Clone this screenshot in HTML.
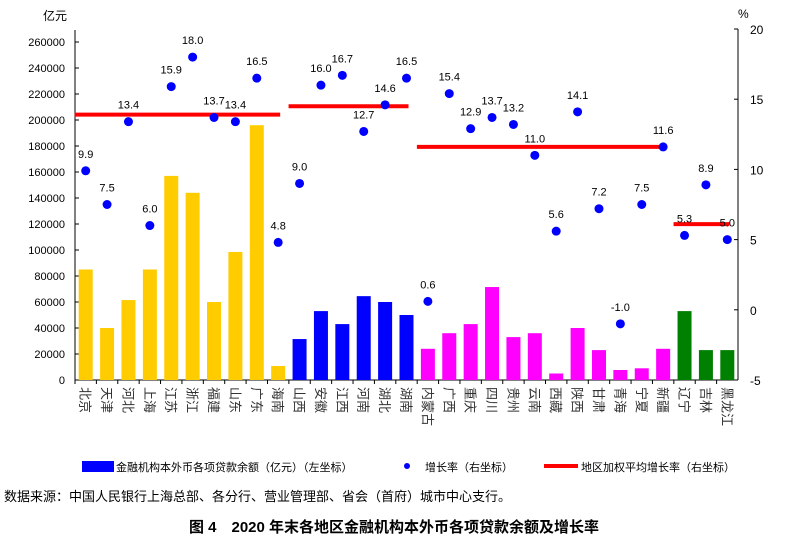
<!DOCTYPE html>
<html><head><meta charset="utf-8"><style>
body{margin:0;background:#fff;}
svg text{font-family:"Liberation Sans","Noto Sans CJK SC",sans-serif;}
</style></head><body>
<svg width="789" height="545" xmlns="http://www.w3.org/2000/svg">
<g id="plot"></g>
<g>
 <rect x="82" y="461" width="32" height="11" fill="#0000ff"/>
 <text x="116" y="471" font-size="11" fill="#000">金融机构本外币各项贷款余额（亿元）（左坐标）</text>
 <circle cx="407" cy="466" r="3" fill="#0000ff"/>
 <text x="425" y="471" font-size="11" fill="#000">增长率（右坐标）</text>
 <line x1="544" y1="466" x2="578" y2="466" stroke="#ff0000" stroke-width="4"/>
 <text x="581" y="471" font-size="11" fill="#000">地区加权平均增长率（右坐标）</text>
</g>
<text x="4" y="501" font-size="13" fill="#000">数据来源：中国人民银行上海总部、各分行、营业管理部、省会（首府）城市中心支行。</text>
<text x="394" y="532" font-size="15" font-weight="bold" text-anchor="middle" fill="#000">图 4　2020 年末各地区金融机构本外币各项贷款余额及增长率</text>
</svg>
<script>
const categories=["北京","天津","河北","上海","江苏","浙江","福建","山东","广东","海南","山西","安徽","江西","河南","湖北","湖南","内蒙古","广西","重庆","四川","贵州","云南","西藏","陕西","甘肃","青海","宁夏","新疆","辽宁","吉林","黑龙江"];
const loans=[85000,40000,61500,85000,157000,144000,60000,98500,196000,10800,31500,53000,43000,64500,60000,50000,24000,36000,43000,71500,33000,36000,5000,40000,23000,7700,9000,24000,53000,23000,23000];
const growth=[9.9,7.5,13.4,6.0,15.9,18.0,13.7,13.4,16.5,4.8,9.0,16.0,16.7,12.7,14.6,16.5,0.6,15.4,12.9,13.7,13.2,11.0,5.6,14.1,7.2,-1.0,7.5,11.6,5.3,8.9,5.0];
const regions=["east","central","west","northeast"];
const regionStart=[0,10,16,28];
const regionEnd=[9,15,27,30];
const regionAvg=[13.9,14.5,11.6,6.1];
const regionColors=["#ffcc00","#0000ff","#ff00ff","#008000"];
const leftTicks=[0,20000,40000,60000,80000,100000,120000,140000,160000,180000,200000,220000,240000,260000];
const rightTicks=[-5,0,5,10,15,20];

const X0=75,X1=738,Y0=380,YL=42,YR=29;
const n=categories.length,bw=(X1-X0)/n;
const yL=v=>Y0-(v/260000)*(Y0-YL);
const yR=v=>Y0-((v+5)/25)*(Y0-YR);
const xc=i=>X0+bw*(i+0.5);
const NS="http://www.w3.org/2000/svg";
const g=document.getElementById('plot');
function mk(t,a,txt){const e=document.createElementNS(NS,t);for(const k in a)e.setAttribute(k,a[k]);if(txt!==undefined)e.textContent=txt;g.appendChild(e);return e;}
function regionOf(i){for(let r=0;r<4;r++)if(i>=regionStart[r]&&i<=regionEnd[r])return r;return 0;}

let e=mk('line',{x1:X0,y1:YL-12,x2:X0,y2:Y0,stroke:'#000'});


e=mk('line',{x1:X1,y1:YR,x2:X1,y2:Y0,stroke:'#000'});


e=mk('line',{x1:X0,y1:Y0,x2:X1,y2:Y0,stroke:'#000'});


e=mk('text',{x:43,y:20,'font-size':12},'亿元');


e=mk('text',{x:738,y:18,'font-size':12},'%');


leftTicks.forEach(v=>{
 mk('line',{x1:X0,y1:yL(v),x2:X0+4,y2:yL(v),stroke:'#000'});
 e=mk('text',{x:X0-10,y:yL(v)+4,'font-size':11,'text-anchor':'end'},String(v));
 
 
});
rightTicks.forEach(v=>{
 mk('line',{x1:X1-4,y1:yR(v),x2:X1,y2:yR(v),stroke:'#000'});
 e=mk('text',{x:X1+12,y:yR(v)+5,'font-size':12},String(v));
 
 
});
categories.forEach((c,i)=>{
 mk('line',{x1:X0+bw*i,y1:Y0,x2:X0+bw*i,y2:Y0+4,stroke:'#000'});
 const r=regionOf(i);
 e=mk('rect',{x:xc(i)-7,y:yL(loans[i]),width:14,height:Y0-yL(loans[i]),fill:regionColors[r]});
 
 
 e=mk('text',{x:0,y:0,'font-size':13,transform:`translate(${xc(i)-5},387) rotate(90)`,fill:'#333'},c);
 
 
});
regions.forEach((r,k)=>{
 e=mk('line',{x1:xc(regionStart[k])-11,x2:xc(regionEnd[k])+2,y1:yR(regionAvg[k]),y2:yR(regionAvg[k]),stroke:'#ff0000','stroke-width':4});
 
 
});
growth.forEach((v,i)=>{
 e=mk('circle',{cx:xc(i),cy:yR(v),r:4.5,fill:'#0000ff'});
 
 
 e=mk('text',{x:xc(i),y:yR(v)-13,'font-size':11,'text-anchor':'middle'},v.toFixed(1));
 
 
});
</script>
</body></html>
